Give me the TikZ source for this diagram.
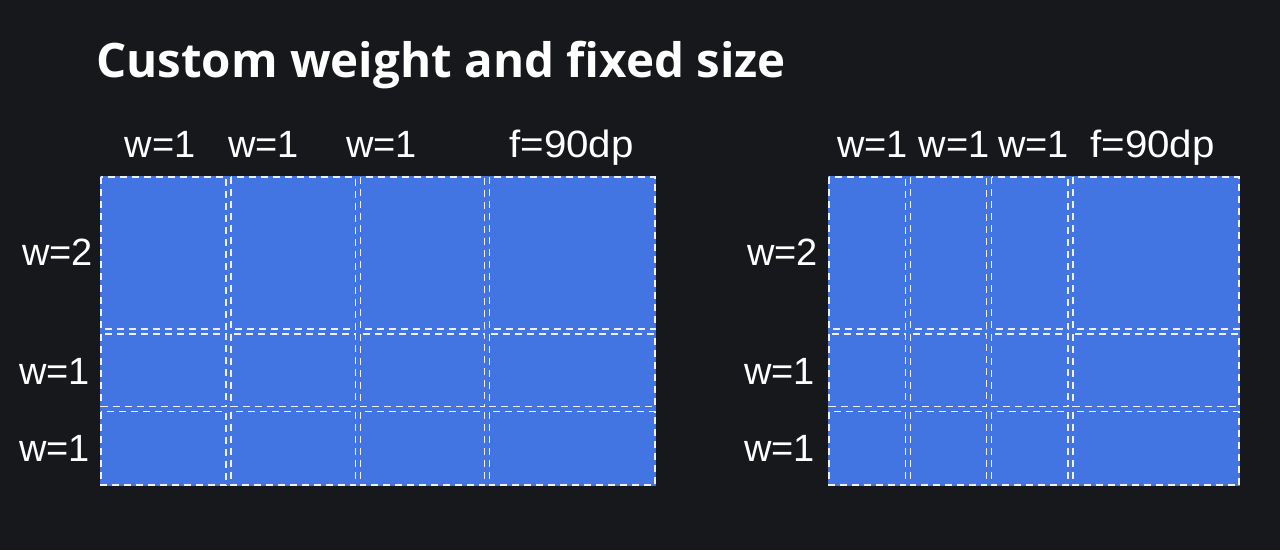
\documentclass[tikz,border=0pt]{standalone}
\usepackage{fontspec}
\setmainfont{Liberation Sans}
\newfontfamily\titlefont{Open Sans}
\definecolor{bgc}{RGB}{23,24,28}
\definecolor{cellblue}{RGB}{66,117,226}
\definecolor{dashc}{RGB}{238,240,246}
\begin{document}
\begin{tikzpicture}[x=1pt,y=-1pt,
  cell/.style={draw=dashc,line width=1.7pt,dash pattern=on 7pt off 5pt},
  lbl/.style={text=white,font=\fontsize{38}{42}\selectfont,inner sep=0pt,anchor=base},
  sidelbl/.style={lbl,anchor=base east}]
\fill[bgc] (0,0) rectangle (1280,550);
\useasboundingbox (0,0) rectangle (1280,550);
\node[text=white,anchor=base west,inner sep=0pt,font=\titlefont\bfseries\fontsize{47.5}{52}\selectfont] (title) at (96,77) {Custom weight and fixed size};
% left grid
\fill[cellblue] (100,176) rectangle (656,486);
\foreach \a/\b in {101/226,231/355.5,360.5/484.5,489.5/655}{
  \foreach \c/\d in {177/329,334/406.5,411.5/485}{
    \draw[cell] (\a,\c) rectangle (\b,\d);}}
% right grid
\fill[cellblue] (828,176) rectangle (1240,486);
\foreach \a/\b in {829/905.5,910.5/986.5,991.5/1068,1073/1239}{
  \foreach \c/\d in {177/329,334/406.5,411.5/485}{
    \draw[cell] (\a,\c) rectangle (\b,\d);}}
% top labels left
\node[lbl] (l1) at (160,157) {w=1};
\node[lbl] (l2) at (263.5,157) {w=1};
\node[lbl] (l3) at (381.5,157) {w=1};
\node[lbl] (l4) at (571.5,157) {\scalebox{1.06}[1]{f=90dp}};
% top labels right
\node[lbl] (r1) at (872.5,157) {w=1};
\node[lbl] (r2) at (954,157) {w=1};
\node[lbl] (r3) at (1033.5,157) {w=1};
\node[lbl] (r4) at (1152.5,157) {\scalebox{1.06}[1]{f=90dp}};
% side labels left
\node[sidelbl] (s1) at (93,265) {w=2};
\node[sidelbl] (s2) at (90,384) {w=1};
\node[sidelbl] (s3) at (90,461) {w=1};
% side labels right
\node[sidelbl] (t1) at (818,265) {w=2};
\node[sidelbl] (t2) at (815,384) {w=1};
\node[sidelbl] (t3) at (815,461) {w=1};
\end{tikzpicture}
\end{document}
